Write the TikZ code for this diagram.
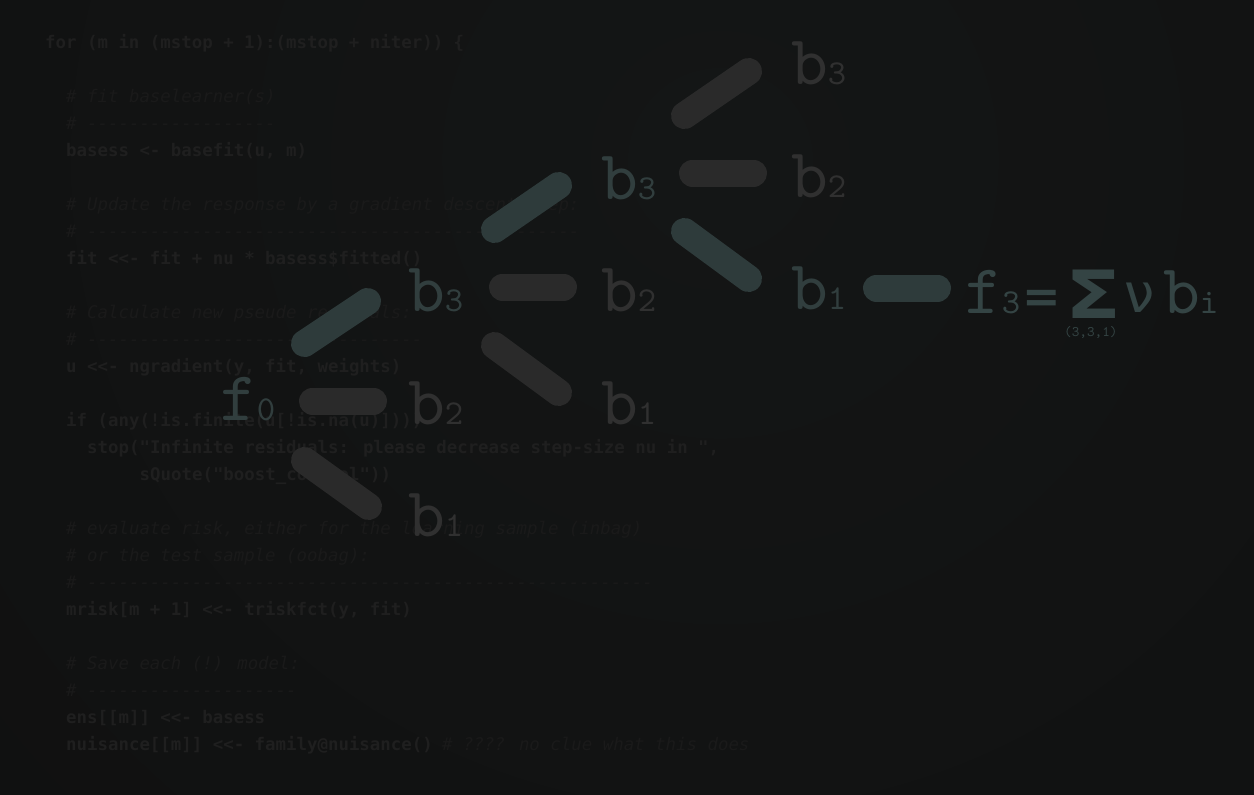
\documentclass[tikz,border=0pt]{standalone}
\usepackage{fontspec}
\newfontfamily\codefont{DejaVu Sans Mono}[Ligatures=TeXOff]
\newfontfamily\djv{DejaVu Sans}
\newfontfamily\lblfont{lmmono10-regular.otf}
\definecolor{bg}{HTML}{0F0F0F}
\definecolor{bghi}{HTML}{141616}
\definecolor{codec}{HTML}{1F1F1F}
\definecolor{cmtc}{HTML}{1A1A1A}
\definecolor{graybar}{HTML}{2A2A2A}
\definecolor{tealbar}{HTML}{2E3B3B}
\definecolor{graylbl}{HTML}{303030}
\definecolor{teallbl}{HTML}{313E3E}
\definecolor{formc}{HTML}{344444}
\newcommand{\lsub}[1]{{\fontsize{35}{35}\selectfont #1}}
\tikzset{
  code/.style={anchor=base west, inner sep=0pt, text=codec, font=\codefont\bfseries\fontsize{17.4}{20}\selectfont},
  cmt/.style={anchor=base west, inner sep=0pt, text=cmtc, font=\codefont\itshape\fontsize{17.4}{20}\selectfont},
  lbl/.style={anchor=base west, inner sep=0pt, font=\lblfont\fontsize{70}{70}\selectfont},
  gl/.style={lbl, text=graylbl},
  tl/.style={lbl, text=teallbl},
  fl/.style={lbl, text=formc},
  bar/.style={line width=27pt, line cap=round},
  gbar/.style={bar, draw=graybar},
  tbar/.style={bar, draw=tealbar}
}
\begin{document}
\begin{tikzpicture}[x=1pt,y=-1pt]
\useasboundingbox (0,0) rectangle (1254,795);
\fill[bg] (0,0) rectangle (1254,795);
\begin{scope}
\clip (0,0) rectangle (1254,795);
\shade[inner color=bghi, outer color=bg] (720,160) circle (1300);
\end{scope}

% code listing
\node[code] (c1) at (45,48) {for (m in (mstop + 1):(mstop + niter)) \{};
\node[cmt] (c2) at (66,102) {\# fit baselearner(s)};
\node[cmt] (c3) at (66,129) {\# ------------------};
\node[code] (c4) at (66,156) {basess <- basefit(u, m)};
\node[cmt] (c5) at (66,210) {\# Update the response by a gradient descent step:};
\node[cmt] (c6) at (66,237) {\# -----------------------------------------------};
\node[code] (c7) at (66,264) {fit <<- fit + nu * basess\$fitted()};
\node[cmt] (c8) at (66,318) {\# Calculate new pseude residuals:};
\node[cmt] (c9) at (66,345) {\# --------------------------------};
\node[code] (c10) at (66,372) {u <<- ngradient(y, fit, weights)};
\node[code] (c11) at (66,426) {if (any(!is.finite(u[!is.na(u)])))};
\node[code] (c12) at (87,453) {stop("Infinite residuals: please decrease step-size nu in ",};
\node[code] (c13) at (139.5,480) {sQuote("boost\_control"))};
\node[cmt] (c14) at (66,534) {\# evaluate risk, either for the learning sample (inbag)};
\node[cmt] (c15) at (66,561) {\# or the test sample (oobag):};
\node[cmt] (c16) at (66,588) {\# ------------------------------------------------------};
\node[code] (c17) at (66,615) {mrisk[m + 1] <<- triskfct(y, fit)};
\node[cmt] (c18) at (66,669) {\# Save each (!) model:};
\node[cmt] (c19) at (66,696) {\# --------------------};
\node[code] (c20) at (66,723) {ens[[m]] <<- basess};
\node[code] (c21) at (66,750) {nuisance[[m]] <<- family@nuisance()};
\node[cmt] (c22) at (442,750) {\# ???? no clue what this does};

% bar end points
\coordinate (a1) at (304.5,343.5); \coordinate (a2) at (367.5,301.5);
\coordinate (b1) at (312.5,401);   \coordinate (b2) at (373.5,401);
\coordinate (d1) at (304.5,460.5); \coordinate (d2) at (368.5,506.5);
\coordinate (e1) at (494.5,229.5); \coordinate (e2) at (558.5,185.5);
\coordinate (g1) at (502.5,287);   \coordinate (g2) at (563.5,287);
\coordinate (h1) at (494.5,345.5); \coordinate (h2) at (558.5,392.5);
\coordinate (k1) at (684.5,115.5); \coordinate (k2) at (748.5,71.5);
\coordinate (m1) at (692.5,173);   \coordinate (m2) at (753.5,173);
\coordinate (n1) at (684.5,231.5); \coordinate (n2) at (748.5,278.5);
\coordinate (p1) at (876.5,288);   \coordinate (p2) at (937.5,288);

\draw[tbar] (a1) -- (a2);
\draw[gbar] (b1) -- (b2);
\draw[gbar] (d1) -- (d2);
\draw[tbar] (e1) -- (e2);
\draw[gbar] (g1) -- (g2);
\draw[gbar] (h1) -- (h2);
\draw[gbar] (k1) -- (k2);
\draw[gbar] (m1) -- (m2);
\draw[tbar] (n1) -- (n2);
\draw[tbar] (p1) -- (p2);

% labels
\node[tl] (f0) at (220,420) {f\lsub{0}};
\node[tl] (l1b3) at (408,311) {b\lsub{3}};
\node[gl] (l1b2) at (408,424) {b\lsub{2}};
\node[gl] (l1b1) at (408,536) {b\lsub{1}};
\node[tl] (l2b3) at (601,199) {b\lsub{3}};
\node[gl] (l2b2) at (601,311) {b\lsub{2}};
\node[gl] (l2b1) at (601,424) {b\lsub{1}};
\node[gl] (l3b3) at (791,84) {b\lsub{3}};
\node[gl] (l3b2) at (791,197) {b\lsub{2}};
\node[tl] (l3b1) at (791,309) {b\lsub{1}};

% formula
\node[fl] (f3) at (965,313) {f\lsub{3}};
\node[anchor=base west, inner sep=0pt, text=formc, font=\djv\bfseries\fontsize{46}{46}\selectfont] (eq) at (1022,312) {=};
\node[anchor=base west, inner sep=0pt, text=formc, font=\djv\bfseries\fontsize{64}{64}\selectfont] (sig) at (1065,318) {\scalebox{1.28}[1.04]{Σ}};
\node[anchor=base west, inner sep=0pt, text=formc, font=\djv\fontsize{54}{54}\selectfont] (nu) at (1124,312) {ν};
\node[fl] (bi) at (1163,313) {b\lsub{i}};
\node[anchor=base west, inner sep=0pt, text=formc, font=\lblfont\fontsize{14.5}{15}\selectfont] (idx) at (1064,336) {(3,3,1)};
\end{tikzpicture}
\end{document}
